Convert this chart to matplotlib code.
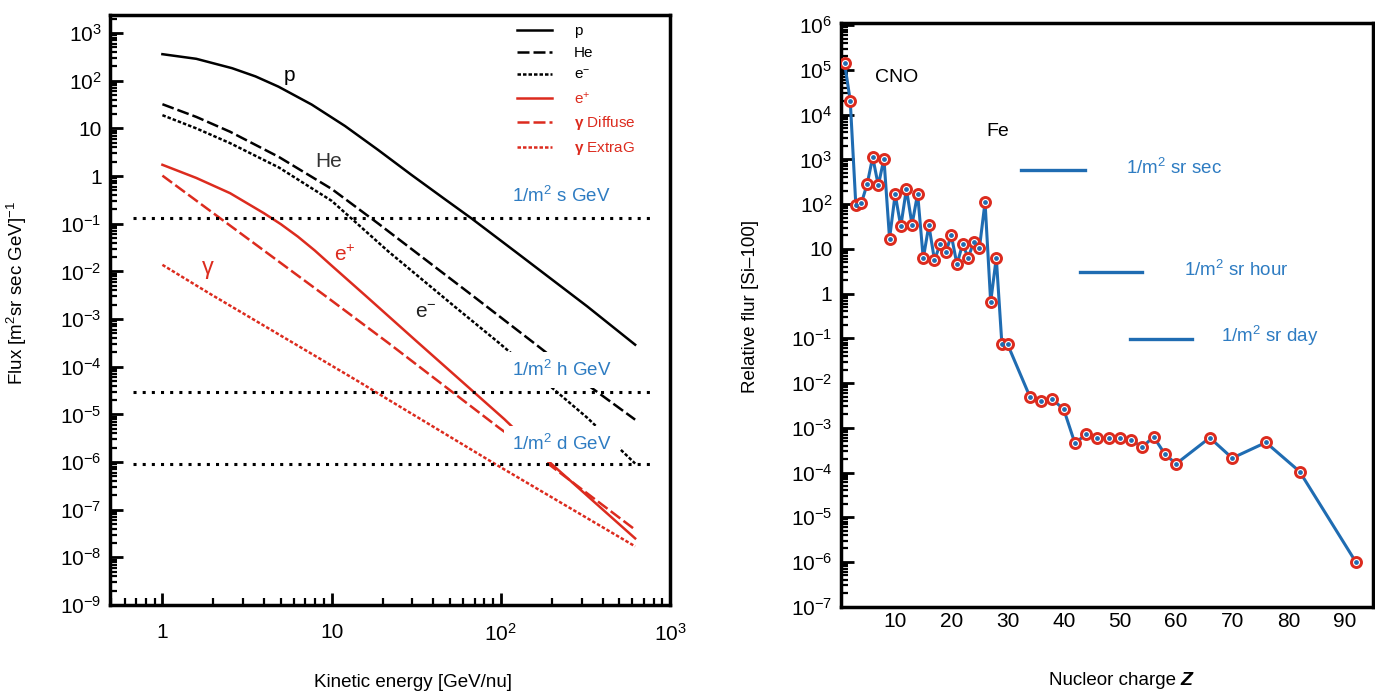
import numpy as np
import matplotlib
matplotlib.use("Agg")
import matplotlib.pyplot as plt
from matplotlib.ticker import LogLocator, FixedLocator, FuncFormatter, NullFormatter

plt.rcParams['font.family'] = ['Liberation Sans', 'DejaVu Sans']
plt.rcParams['mathtext.fontset'] = 'custom'
plt.rcParams['mathtext.rm'] = 'Liberation Sans'
plt.rcParams['mathtext.it'] = 'Liberation Sans:italic'
plt.rcParams['mathtext.bf'] = 'Liberation Sans:bold'

# left panel: flux vs kinetic energy [GeV/nu]
e_p = [1, 1.585, 2.58, 3.55, 4.85, 7.62, 12.0, 18.8, 29.6, 46.5, 66.7, 125, 324, 622]
f_p = [360, 288, 183, 123, 75, 31.6, 11.2, 3.54, 1.06, 0.33, 0.131, 0.0242, 1.84e-3, 2.89e-4]

e_he = [1, 1.585, 2.51, 4.88, 10, 18.9, 69.8, 157, 324, 622]
f_he = [32.1, 17.4, 8.5, 2.51, 0.537, 0.1, 2.89e-3, 3.14e-4, 4.2e-5, 7.74e-6]

e_em = [1, 1.585, 2.51, 4.88, 10, 21.6, 53.2, 97.7, 180, 324, 622]
f_em = [18.9, 10, 4.9, 1.51, 0.302, 0.0263, 1.84e-3, 3.14e-4, 5.0e-5, 8.5e-6, 9.3e-7]

e_ep = [1, 1.585, 2.51, 3.98, 5.01, 6.31, 7.94, 10, 16.1, 31.6, 105, 176, 622]
f_ep = [1.72, 0.912, 0.437, 0.166, 0.0977, 0.0537, 0.0275, 0.0132, 2.95e-3, 3.47e-4, 7.9e-6, 1.35e-6, 2.5e-8]

e_gd = [1, 3.16, 9.55, 21.6, 97.7, 188, 622]
f_gd = [1.02, 0.05, 2.75e-3, 3.16e-4, 5.2e-6, 9.5e-7, 3.8e-8]

e_ge = [1, 1.88, 14.4, 21.6, 95.5, 622]
f_ge = [0.0137, 3.5e-3, 4.9e-5, 2.04e-5, 8.5e-7, 1.7e-8]

rate_levels = [0.13, 3.0e-5, 9.0e-7]
rate_span = [0.667, 760]
rate_labels = [r'1/m$^{2}$ s GeV', r'1/m$^{2}$ h GeV', r'1/m$^{2}$ d GeV']

# right panel: relative flux vs nuclear charge
z = [1, 2, 3, 4, 5, 6, 7, 8, 9, 10, 11, 12, 13, 14, 15, 16, 17, 18, 19, 20,
     21, 22, 23, 24, 25, 26, 27, 28, 29, 30, 34, 36, 38, 40, 42, 44, 46, 48,
     50, 52, 54, 56, 58, 60, 66, 70, 76, 82, 92]
rel = [1.4e5, 2.07e4, 94, 108, 275, 1120, 263, 1035, 17, 166,
       32, 218, 35, 171, 6.1, 33.7, 5.6, 12.7, 8.4, 20,
       4.5, 12.7, 6.4, 14.3, 10.5, 111, 0.65, 6.3, 0.074, 0.074,
       4.9e-3, 4.0e-3, 4.3e-3, 2.6e-3, 4.5e-4, 7.2e-4, 5.8e-4, 6.0e-4,
       5.8e-4, 5.3e-4, 3.7e-4, 6.3e-4, 2.6e-4, 1.56e-4,
       6.0e-4, 2.1e-4, 4.7e-4, 1.05e-4, 1.0e-6]
z_ticks = [10, 20, 30, 40, 50, 60, 70, 80, 90]
rate_labels_r = [r'1/m$^{2}$ sr sec', r'1/m$^{2}$ sr hour', r'1/m$^{2}$ sr day']

RED = '#dc2b1e'
BLUE = '#1f6cb2'
TBLUE = '#2e7cc2'


def logfmt(v, pos):
    n = int(round(np.log10(v)))
    if n == 0:
        return '1'
    if n == 1:
        return '10'
    return r'$\mathregular{10^{%d}}$' % n


def style_log_y(ax):
    ax.yaxis.set_major_locator(LogLocator(base=10, numticks=30))
    ax.yaxis.set_minor_locator(LogLocator(base=10, subs=np.arange(2, 10), numticks=300))
    ax.yaxis.set_major_formatter(FuncFormatter(logfmt))
    ax.yaxis.set_minor_formatter(NullFormatter())
    ax.tick_params(axis='y', which='major', direction='in', length=9, width=2, labelsize=15, pad=6)
    ax.tick_params(axis='y', which='minor', direction='in', length=5, width=1.6)
    ax.tick_params(right=False, top=False, which='both')
    for s in ax.spines.values():
        s.set_linewidth(2.5)


fig = plt.figure(figsize=(13.75, 7), dpi=100)

# ---- left panel
ax = fig.add_axes([0.080, 0.1357, 0.4073, 0.843])
ax.set_xscale('log')
ax.set_yscale('log')
ax.set_xlim(0.49, 1000)
ax.set_ylim(1e-9, 2.4e3)

lw = 1.8
ax.plot(e_p, f_p, color='black', lw=lw, label='p')
ax.plot(e_he, f_he, color='black', lw=lw, ls=(0, (4.8, 1.6)), label='He')
ax.plot(e_em, f_em, color='black', lw=lw, ls=(0, (1.4, 0.8)), label=r'e$^{-}$')
ax.plot(e_ep, f_ep, color=RED, lw=lw, label=r'e$^{+}$')
ax.plot(e_gd, f_gd, color=RED, lw=lw, ls=(0, (4.8, 1.6)), label=r'$\mathbf{\gamma}$ Diffuse')
ax.plot(e_ge, f_ge, color=RED, lw=lw, ls=(0, (1.4, 0.8)), label=r'$\mathbf{\gamma}$ ExtraG')

for lvl in rate_levels:
    ax.plot(rate_span, [lvl, lvl], color='black', lw=2.2, ls=(0, (1, 2)), zorder=6)

for lab, y in zip(rate_labels, [0.694, 0.398, 0.273]):
    ax.text(0.718, y, lab, transform=ax.transAxes, color=TBLUE, fontsize=13.5,
            ha='left', va='center', zorder=5,
            bbox=dict(facecolor='white', edgecolor='none', pad=6))

ax.text(5.6, 130, 'p', fontsize=15, ha='center', va='center')
ax.text(9.6, 2.0, 'He', fontsize=15, ha='center', va='center', color='#333333')
ax.text(36, 1.4e-3, r'e$^{-}$', fontsize=15, ha='center', va='center', color='#222222')
ax.text(12, 0.022, r'e$^{+}$', fontsize=15, ha='center', va='center', color=RED)
ax.text(1.85, 0.0117, 'γ', fontsize=17, ha='center', va='center', color=RED)

ax.legend(loc='upper left', bbox_to_anchor=(0.727, 0.984), frameon=False,
          fontsize=11, handlelength=2.3, handletextpad=1.4, labelspacing=0.52,
          borderpad=0, borderaxespad=0, labelcolor='linecolor')

ax.xaxis.set_major_locator(LogLocator(base=10, numticks=10))
ax.xaxis.set_minor_locator(LogLocator(base=10, subs=np.arange(2, 10), numticks=100))
ax.xaxis.set_major_formatter(FuncFormatter(logfmt))
ax.xaxis.set_minor_formatter(NullFormatter())
style_log_y(ax)
ax.tick_params(axis='x', which='major', direction='in', length=9, width=2, labelsize=15, pad=13)
ax.tick_params(axis='x', which='minor', direction='in', length=5, width=1.6)

ax.set_xlabel('Kinetic energy [GeV/nu]', fontsize=13.5)
ax.xaxis.set_label_coords(0.541, -0.117)
ax.set_ylabel(r'Flux [m$^{2}$sr sec GeV]$^{-1}$', fontsize=13.5)
ax.yaxis.set_label_coords(-0.145, 0.529)

# ---- right panel
ax2 = fig.add_axes([0.6114, 0.1333, 0.3869, 0.8333])
ax2.set_yscale('log')
ax2.set_xlim(0.3, 95)
ax2.set_ylim(1e-7, 1.1e6)

ax2.plot(z, rel, color=BLUE, lw=2.2, zorder=2)
ax2.plot(z, rel, ls='none', marker='o', ms=7.2, mfc='white', mec=RED, mew=2.1, zorder=3)
ax2.plot(z, rel, ls='none', marker='o', ms=2.4, mfc=BLUE, mec=BLUE, zorder=4)

ax2.text(10.2, 6.8e4, 'CNO', fontsize=14, ha='center', va='center')
ax2.text(28.2, 4.2e3, 'Fe', fontsize=14, ha='center', va='center')

for lab, x0, x1, yl, xt in zip(rate_labels_r, [0.3397, 0.4507, 0.5433],
                               [0.4585, 0.5673, 0.6607], [0.7486, 0.5730, 0.4597],
                               [0.536, 0.6462, 0.7145]):
    ax2.plot([x0, x1], [yl, yl], transform=ax2.transAxes, color=BLUE, lw=2.4)
    ax2.text(xt, yl + 0.004, lab, transform=ax2.transAxes, color=TBLUE, fontsize=13.5,
             ha='left', va='center')

style_log_y(ax2)
ax2.xaxis.set_major_locator(FixedLocator(z_ticks))
ax2.tick_params(axis='x', which='both', length=0, labelsize=15, pad=4)

ax2.set_ylabel('Relative flur [Si–100]', fontsize=13.5)
ax2.yaxis.set_label_coords(-0.154, 0.515)
t1 = ax2.text(0.515, -0.126, 'Nucleor charge ', transform=ax2.transAxes, fontsize=13.5,
              ha='center', va='center')
ax2.annotate('Z', xy=(1, 0), xycoords=t1, ha='left', va='bottom', fontsize=14,
             fontweight='bold', style='italic')

fig.savefig('out.png', dpi=100)
